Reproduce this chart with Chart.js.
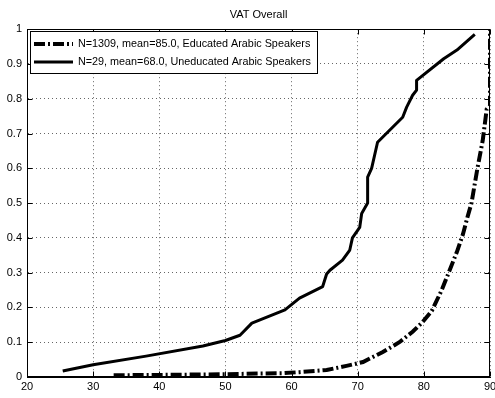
<!DOCTYPE html>
<html><head><meta charset="utf-8">
<script src="https://cdn.jsdelivr.net/npm/chart.js@4"></script>
<style>html,body{margin:0;padding:0;background:#fff}#wrap{width:495px;height:398px}</style>
</head><body><div id="wrap"><canvas id="c" width="495" height="398"></canvas></div>
<script>
const chartTitle = "VAT Overall";
const seriesLabels = ["N=1309, mean=85.0, Educated Arabic Speakers", "N=29, mean=68.0, Uneducated Arabic Speakers"];
const educatedX = [33.1, 40, 50, 55, 58.7, 61.2, 65.3, 68.3, 70.8, 73.8, 76.3, 78.3, 79.8, 81.2, 82.7, 83.9, 85.0, 85.9, 86.6, 87.2, 88.1, 88.9, 89.5, 90, 90];
const educatedY = [0.005, 0.006, 0.008, 0.010, 0.011, 0.014, 0.020, 0.032, 0.043, 0.072, 0.100, 0.130, 0.158, 0.190, 0.250, 0.307, 0.360, 0.410, 0.460, 0.500, 0.600, 0.680, 0.770, 0.780, 1.0];
const uneducatedX = [25.4, 30, 38, 46.6, 50, 52.2, 54, 59, 61.2, 64.7, 65.3, 65.8, 67.7, 68.8, 69.2, 70.3, 70.6, 71.5, 71.5, 72.1, 73, 76.8, 77.4, 78.3, 78.9, 78.9, 83, 85, 87.7];
const uneducatedY = [0.017, 0.035, 0.060, 0.089, 0.105, 0.120, 0.155, 0.193, 0.227, 0.260, 0.296, 0.307, 0.336, 0.365, 0.400, 0.430, 0.470, 0.500, 0.575, 0.600, 0.675, 0.747, 0.776, 0.810, 0.825, 0.853, 0.915, 0.940, 0.985];
const xTickValues = [20, 30, 40, 50, 60, 70, 80, 90];
const yTickValues = [0, 0.1, 0.2, 0.3, 0.4, 0.5, 0.6, 0.7, 0.8, 0.9, 1];
const yTickLabels = ["0", "0.1", "0.2", "0.3", "0.4", "0.5", "0.6", "0.7", "0.8", "0.9", "1"];

const FONT = '"Liberation Sans", Arial, Helvetica, sans-serif';
const eduDash = [11, 3, 2, 3];

const toPts = (xs, ys) => xs.map((x, i) => ({x: x, y: ys[i]}));

const matlabFrame = {
  id: 'matlabFrame',
  afterDatasetsDraw(chart) {
    const {ctx, chartArea: a, scales: {x, y}} = chart;
    ctx.save();
    ctx.setLineDash([]);
    ctx.strokeStyle = '#000';
    ctx.lineWidth = 1;
    const L = Math.round(a.left) + 0.5, R = Math.round(a.right) - 0.5;
    const T = Math.round(a.top) + 0.5, B = Math.round(a.bottom) - 0.5;
    ctx.strokeRect(L, T, R - L, B - T);
    ctx.beginPath();
    xTickValues.forEach(v => {
      const px = Math.round(x.getPixelForValue(v)) + 0.5;
      ctx.moveTo(px, B); ctx.lineTo(px, B - 5);
      ctx.moveTo(px, T); ctx.lineTo(px, T + 5);
    });
    yTickValues.forEach(v => {
      const py = Math.round(y.getPixelForValue(v)) + 0.5;
      ctx.moveTo(L, py); ctx.lineTo(L + 5, py);
      ctx.moveTo(R, py); ctx.lineTo(R - 5, py);
    });
    ctx.stroke();

    // legend box
    const bx = 30.5, by = 31.5, bw = 287, bh = 42;
    ctx.fillStyle = '#fff';
    ctx.fillRect(bx, by, bw, bh);
    ctx.strokeRect(bx, by, bw, bh);
    const rows = [44, 62];
    chart.data.datasets.forEach((ds, i) => {
      ctx.save();
      ctx.beginPath();
      ctx.strokeStyle = '#000';
      ctx.lineWidth = ds.borderWidth;
      ctx.lineCap = 'butt';
      ctx.setLineDash(ds.borderDash || []);
      ctx.moveTo(34, rows[i]); ctx.lineTo(73, rows[i]);
      ctx.stroke();
      ctx.restore();
      ctx.fillStyle = '#000';
      ctx.font = '10.8px ' + FONT;
      ctx.textBaseline = 'middle';
      ctx.textAlign = 'left';
      ctx.fillText(ds.label, 78, rows[i]);
    });
    ctx.restore();
  }
};

new Chart(document.getElementById('c'), {
  type: 'line',
  data: {
    datasets: [
      {label: seriesLabels[0], data: toPts(educatedX, educatedY), borderColor: '#000', borderWidth: 4,
       borderDash: eduDash, borderCapStyle: 'butt', pointRadius: 0, tension: 0, fill: false},
      {label: seriesLabels[1], data: toPts(uneducatedX, uneducatedY), borderColor: '#000', borderWidth: 3,
       borderCapStyle: 'butt', borderJoinStyle: 'round', pointRadius: 0, tension: 0, fill: false}
    ]
  },
  options: {
    responsive: false,
    animation: false,
    devicePixelRatio: 1,
    layout: {padding: {left: 0, right: 5, top: 0, bottom: 0}},
    plugins: {
      legend: {display: false},
      tooltip: {enabled: false},
      title: {display: true, text: chartTitle, fullSize: false, color: '#000',
              font: {family: FONT, size: 11, weight: 'normal'}, padding: {top: 8, bottom: 8}}
    },
    scales: {
      x: {
        type: 'linear', min: 20, max: 90,
        afterBuildTicks: s => { s.ticks = xTickValues.map(v => ({value: v})); },
        afterFit: s => { s.height = 21; s.paddingLeft = 0; s.paddingRight = 0; },
        ticks: {color: '#000', font: {family: FONT, size: 11}, padding: 3, maxRotation: 0, autoSkip: false},
        grid: {color: '#666', lineWidth: 1, drawTicks: false},
        border: {display: true, color: '#000', dash: [1, 3]}
      },
      y: {
        type: 'linear', min: 0, max: 1,
        afterBuildTicks: s => { s.ticks = yTickValues.map(v => ({value: v})); },
        afterFit: s => { s.width = 27; s.paddingTop = 0; s.paddingBottom = 0; },
        ticks: {color: '#000', font: {family: FONT, size: 11}, padding: 5, autoSkip: false,
                callback: (v, i) => yTickLabels[i]},
        grid: {color: '#666', lineWidth: 1, drawTicks: false},
        border: {display: true, color: '#000', dash: [1, 3]}
      }
    }
  },
  plugins: [matlabFrame]
});
</script>
</body></html>
